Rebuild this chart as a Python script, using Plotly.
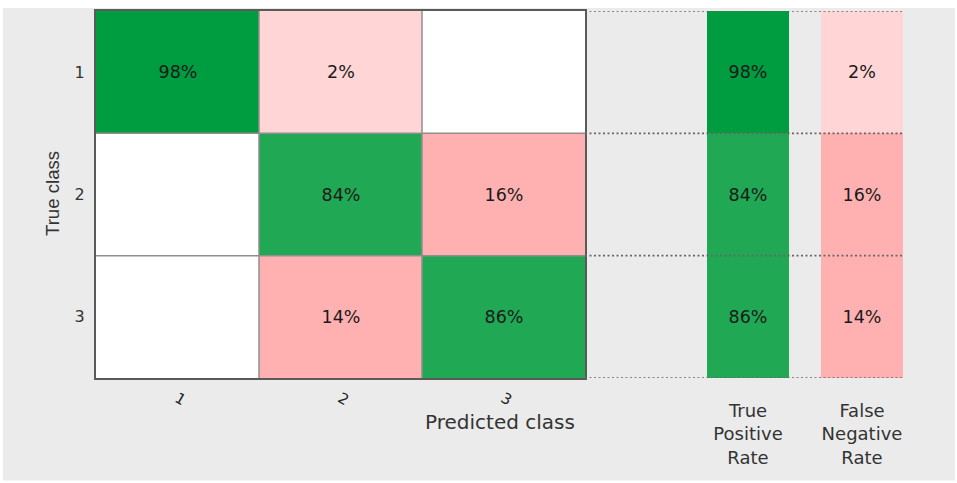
import plotly.graph_objects as go

# ---- data ----
classes = ["1", "2", "3"]
row_1 = [98, 2, 0]
row_2 = [0, 84, 16]
row_3 = [0, 14, 86]
true_positive_rate = [98, 84, 86]
false_negative_rate = [2, 16, 14]
summary_labels = ["True<br>Positive<br>Rate", "False<br>Negative<br>Rate"]

matrix = [row_1, row_2, row_3]
n = len(classes)
idx = list(range(1, n + 1))

# signed values: diagonal positive (green), off-diagonal negative (red)
z_main = [[(v if i == j else -v) for j, v in enumerate(r)] for i, r in enumerate(matrix)]
t_main = [[(f"{v}%" if v else "") for v in r] for r in matrix]
z_sum = [[tp, -fn] for tp, fn in zip(true_positive_rate, false_negative_rate)]
t_sum = [[f"{tp}%", f"{fn}%"] for tp, fn in zip(true_positive_rate, false_negative_rate)]

PINK, LPINK, GREEN, DGREEN = "#ffb1b1", "#ffd5d5", "#20a854", "#009c40"
cscale = [[0, PINK], [0.46, PINK], [0.46, LPINK], [0.4975, LPINK], [0.4975, "white"],
          [0.5025, "white"], [0.5025, GREEN], [0.95, GREEN], [0.95, DGREEN], [1, DGREEN]]

TXT = dict(family="DejaVu Sans", size=17.5, color="#1a1a1a")

fig = go.Figure()
fig.add_trace(go.Heatmap(x=idx, y=idx, z=z_main, text=t_main, texttemplate="%{text}",
                         textfont=TXT, colorscale=cscale, zmin=-100, zmax=100,
                         showscale=False, hoverinfo="skip", xaxis="x", yaxis="y"))
fig.add_trace(go.Heatmap(x=[0, 1], y=idx, z=z_sum, text=t_sum, texttemplate="%{text}",
                         textfont=TXT, colorscale=cscale, zmin=-100, zmax=100, xgap=32,
                         showscale=False, hoverinfo="skip", xaxis="x2", yaxis="y2"))

# pixel geometry helpers (plot area: left 96, top 9, width 807, height 369)
L, T, W, H = 96, 9, 807, 369
px = lambda p: (p - L) / W
py = lambda p: (T + H - p) / H
split = px(585)

shapes = [dict(type="rect", xref="paper", yref="paper", x0=px(3), x1=px(955), y0=py(481), y1=py(6),
               fillcolor="#ebebeb", line=dict(width=0), layer="below")]
for b in [k + 0.5 for k in idx[:-1]]:
    shapes.append(dict(type="line", xref="x", yref="y domain", x0=b, x1=b, y0=0, y1=1,
                       line=dict(color="#8f8f8f", width=1.5), layer="above"))
    shapes.append(dict(type="line", xref="x domain", yref="y", x0=0, x1=1, y0=b, y1=b,
                       line=dict(color="#8f8f8f", width=1.5), layer="above"))
for b in [k + 0.5 for k in range(0, n + 1)]:
    shapes.append(dict(type="line", xref="x2 domain", yref="y2", x0=0, x1=1, y0=b, y1=b,
                       line=dict(color="#666666", width=1.6, dash="2px,2.5px"), layer="above"))

fig.update_layout(
    width=957, height=483,
    margin=dict(l=L, r=957 - L - W, t=T, b=483 - T - H),
    paper_bgcolor="white", plot_bgcolor="rgba(0,0,0,0)",
    font=dict(family="DejaVu Sans", color="#333333"),
    shapes=shapes,
    xaxis=dict(domain=[0, split], range=[0.5, n + 0.5], tickvals=idx, ticktext=classes,
               tickangle=30, tickfont=dict(size=15, color="#222"), ticks="",
               ticklabelstandoff=4, showgrid=False, zeroline=False,
               showline=True, mirror=True, linecolor="#5a5a5a", linewidth=2),
    yaxis=dict(domain=[0, 1], range=[n + 0.5, 0.5], tickvals=idx, ticktext=classes,
               tickfont=dict(size=16, color="#333"), ticks="", ticklabelstandoff=6,
               showgrid=False, zeroline=False,
               showline=True, mirror=True, linecolor="#5a5a5a", linewidth=2),
    xaxis2=dict(domain=[split, 1], anchor="y2", range=[-(748 - 585) / 114, (903 - 748) / 114],
                tickvals=[0, 1], ticktext=summary_labels, ticks="", ticklabelstandoff=20,
                tickfont=dict(size=18, color="#333"), showgrid=False, zeroline=False),
    yaxis2=dict(domain=[0, 1], anchor="x2", range=[n + 0.5, 0.5], showticklabels=False,
                showgrid=False, zeroline=False),
    annotations=[
        dict(text="True class", xref="paper", yref="paper", x=px(52), y=py(193),
             xanchor="center", yanchor="middle",
             textangle=-90, showarrow=False, font=dict(family="Liberation Sans", size=18.6, color="#333")),
        dict(text="Predicted class", xref="paper", yref="paper", x=px(500), y=py(422),
             xanchor="center", yanchor="middle",
             showarrow=False, font=dict(size=20, color="#333")),
    ],
)

fig.write_html("out.html", config={"displayModeBar": False},
               post_script="document.body.style.margin='0';document.body.style.padding='0';")
